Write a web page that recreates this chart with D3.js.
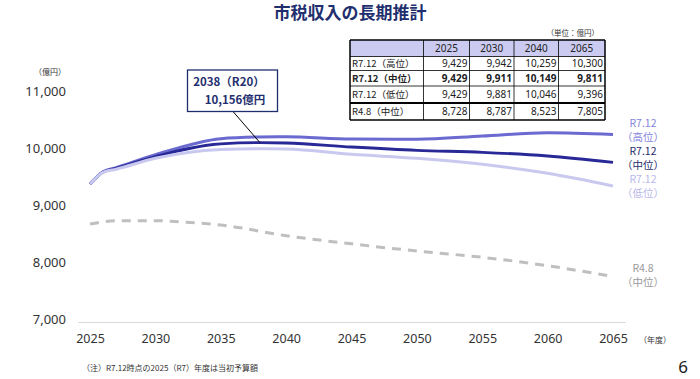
<!DOCTYPE html>
<html><head><meta charset="utf-8">
<script src="https://cdn.jsdelivr.net/npm/d3@7"></script>
<style>body{margin:0;background:#fff;}svg{display:block;font-family:"Noto Sans CJK JP","Noto Sans",sans-serif;}</style>
</head><body><svg id="c" width="700" height="379"></svg>
<script>
const years = [2025, 2026, 2027, 2030, 2035, 2038, 2040, 2045, 2050, 2055, 2060, 2065];
const high  = [9429, 9646, 9716, 9942, 10225, 10255, 10259, 10219, 10214, 10272, 10330, 10300];
const mid   = [9429, 9640, 9705, 9911, 10135, 10156, 10149, 10079, 10021, 9986, 9921, 9811];
const low   = [9429, 9635, 9690, 9881, 10035, 10050, 10046, 9951, 9880, 9775, 9617, 9396];
const r48Years = [2025, 2027, 2030, 2032, 2035, 2040, 2045, 2050, 2055, 2060, 2065];
const r48   = [8728, 8786, 8787, 8763, 8711, 8523, 8380, 8254, 8144, 7996, 7805];
const yTicks = [7000, 8000, 9000, 10000, 11000];
const xTicks = [2025, 2030, 2035, 2040, 2045, 2050, 2055, 2060, 2065];
const tableCols = ["2025", "2030", "2040", "2065"];
const tableRows = ["R7.12（高位）", "R7.12（中位）", "R7.12（低位）", "R4.8（中位）"];
const tableVals = [[9429, 9942, 10259, 10300], [9429, 9911, 10149, 9811], [9429, 9881, 10046, 9396], [8728, 8787, 8523, 7805]];
const seriesLabels = [["R7.12", "（高位）"], ["R7.12", "（中位）"], ["R7.12", "（低位）"], ["R4.8", "（中位）"]];

const svg = d3.select("#c");
const x = d3.scaleLinear().domain([2025, 2065]).range([90, 613]);
const y = d3.scaleLinear().domain([7000, 11000]).range([322.5, 94.5]);
const navy = "#1f2f6e";

// title
svg.append("text").attr("x", 350).attr("y", 19).attr("text-anchor", "middle")
  .attr("font-size", 17).attr("font-weight", "bold").attr("fill", navy).text("市税収入の長期推計");

// y axis labels
const yAxis = d3.axisLeft(y).tickValues(yTicks).tickFormat(d3.format(",")).tickSize(0).tickPadding(0);
const ga = svg.append("g").attr("transform", "translate(66,-3)").call(yAxis);
ga.select(".domain").remove();
ga.selectAll("text").attr("font-size", 13).attr("fill", "#333").attr("font-family", "'Noto Sans',sans-serif");
svg.append("text").attr("x", 50).attr("y", 75).attr("text-anchor", "middle").attr("font-size", 8).attr("fill", "#333").text("（億円）");

// x axis
const xAxis = d3.axisBottom(x).tickValues(xTicks).tickFormat(d3.format("d")).tickSize(0).tickPadding(12);
const gx = svg.append("g").attr("transform", `translate(0,${y(7000)})`).call(xAxis);
gx.select(".domain").remove();
gx.selectAll("text").attr("font-size", 12.5).attr("fill", "#333").attr("font-family", "'Noto Sans',sans-serif");
svg.append("line").attr("x1", 78).attr("x2", 626).attr("y1", y(7000)).attr("y2", y(7000)).attr("stroke", "#d9d9d9").attr("stroke-width", 1);
svg.append("text").attr("x", 655).attr("y", 343).attr("text-anchor", "middle").attr("font-size", 8).attr("fill", "#333").text("（年度）");

// lines
const line = d3.line().x(d => x(d[0])).y(d => y(d[1])).curve(d3.curveMonotoneX);
const zip = (xs, vs) => xs.map((v, i) => [v, vs[i]]);
svg.append("path").attr("d", line(zip(r48Years, r48))).attr("fill", "none").attr("stroke", "#bfbfbf").attr("stroke-width", 3).attr("stroke-dasharray", "9,7");
svg.append("path").attr("d", line(zip(years, high))).attr("fill", "none").attr("stroke", "#6a6ad0").attr("stroke-width", 3);
svg.append("path").attr("d", line(zip(years, mid))).attr("fill", "none").attr("stroke", "#282896").attr("stroke-width", 2.8);
svg.append("path").attr("d", line(zip(years, low))).attr("fill", "none").attr("stroke", "#c9c9f0").attr("stroke-width", 3);

// series labels
const labelColors = ["#8585dd", "#1e2e6a", "#b9b9ea", "#9a9a9a"];
const labelY = [127, 155, 183, 272];
seriesLabels.forEach((s, i) => {
  svg.append("text").attr("x", 643).attr("y", labelY[i]).attr("text-anchor", "middle").attr("font-size", 10.5).attr("fill", labelColors[i]).text(s[0]);
  svg.append("text").attr("x", 643).attr("y", labelY[i] + 14).attr("text-anchor", "middle").attr("font-size", 10.5).attr("fill", labelColors[i]).text(s[1]);
});

// annotation
const px = x(2038), py = y(mid[years.indexOf(2038)]);
svg.append("line").attr("x1", 233).attr("y1", 111.5).attr("x2", px).attr("y2", py).attr("stroke", "#000").attr("stroke-width", 1);
svg.append("rect").attr("x", 187.5).attr("y", 70).attr("width", 90).attr("height", 41.5).attr("fill", "#fff").attr("stroke", navy).attr("stroke-width", 1.3);
svg.append("text").attr("x", 229).attr("y", 86).attr("text-anchor", "middle").attr("font-size", 11.5).attr("font-weight", "bold").attr("fill", navy).text("2038（R20）");
svg.append("text").attr("x", 235).attr("y", 104).attr("text-anchor", "middle").attr("font-size", 11.5).attr("font-weight", "bold").attr("fill", navy).text("10,156億円");

// table
const colX = [350, 423.5, 469.5, 514, 558.5, 605];
const rowY = [40, 56.5, 70.5, 86, 103, 120];
const tg = svg.append("g");
tg.append("rect").attr("x", colX[0]).attr("y", rowY[0]).attr("width", colX[5] - colX[0]).attr("height", rowY[1] - rowY[0]).attr("fill", "#cbcbf1");
for (let i = 0; i < rowY.length; i++) {
  const sw = (i === 0 || i === 5) ? 1.5 : (i === 4 ? 2 : 0.8);
  tg.append("line").attr("x1", colX[0]).attr("x2", colX[5]).attr("y1", rowY[i]).attr("y2", rowY[i]).attr("stroke", "#000").attr("stroke-width", sw);
}
colX.forEach((cx, i) => {
  const sw = (i === 0 || i === 5) ? 1.5 : 0.8;
  tg.append("line").attr("x1", cx).attr("x2", cx).attr("y1", rowY[0]).attr("y2", rowY[5]).attr("stroke", "#000").attr("stroke-width", sw);
});
tableCols.forEach((c, j) => {
  tg.append("text").attr("x", (colX[j + 1] + colX[j + 2]) / 2).attr("y", (rowY[0] + rowY[1]) / 2 + 3.5).attr("text-anchor", "middle").attr("font-size", 10).attr("fill", "#222").attr("font-family", "'Noto Sans',sans-serif").text(c);
});
tableRows.forEach((r, i) => {
  const cy = (rowY[i + 1] + rowY[i + 2]) / 2 + 3.5;
  const bold = i === 1 ? "bold" : "normal";
  tg.append("text").attr("x", colX[0] + 2).attr("y", cy).attr("font-size", 9.5).attr("font-weight", bold).attr("fill", "#222").text(r);
  tableVals[i].forEach((v, j) => {
    tg.append("text").attr("x", colX[j + 2] - 2).attr("y", cy).attr("text-anchor", "end").attr("font-size", 10).attr("font-weight", bold).attr("fill", "#222").attr("font-family", "'Noto Sans',sans-serif").text(d3.format(",")(v));
  });
});
svg.append("text").attr("x", 599).attr("y", 36).attr("text-anchor", "end").attr("font-size", 7.5).attr("fill", "#333").text("（単位：億円）");

// footnote & page
svg.append("text").attr("x", 82).attr("y", 371).attr("font-size", 8).attr("fill", "#333").text("（注）R7.12時点の2025（R7）年度は当初予算額");
svg.append("text").attr("x", 688).attr("y", 373).attr("text-anchor", "end").attr("font-size", 17).attr("fill", "#222").attr("font-family", "'Noto Sans',sans-serif").text("6");
</script></body></html>
